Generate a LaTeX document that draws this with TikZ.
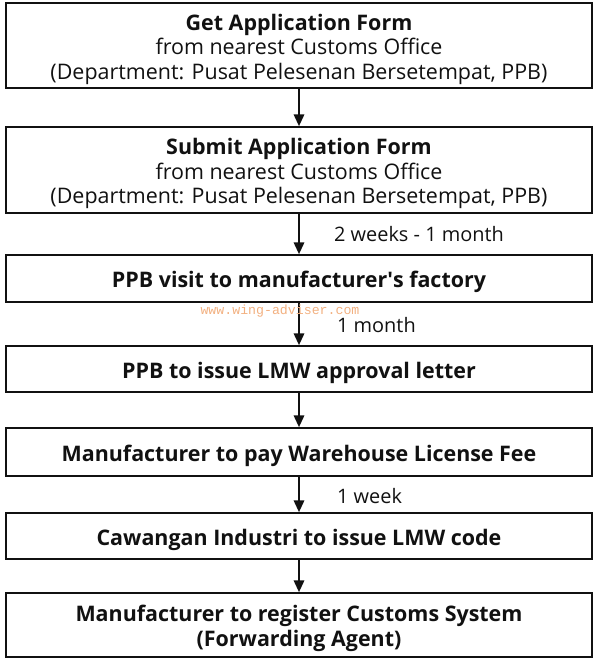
\documentclass[tikz,border=0pt]{standalone}
\usepackage{fontspec}
\setmainfont{Open Sans}
\newfontfamily\wmfont{Liberation Mono}
\usepackage{xcolor}
\definecolor{ink}{HTML}{111111}
\definecolor{watermark}{HTML}{F2B080}
\usepackage{tikz}
\usetikzlibrary{arrows.meta, positioning}
\newcommand{\headstrut}{\rule{0pt}{20pt}}

\begin{document}
\begin{tikzpicture}[
  x=0.03cm, y=-0.03cm,
  every node/.style={font=\fontsize{18.3}{20.8}\selectfont, text=ink},
  stepbox/.style={rectangle, draw=ink, line width=1.5pt, fill=white,
                  minimum width=17.6cm, align=center, inner sep=2pt},
  note/.style={anchor=west, font=\fontsize{17}{19}\selectfont},
  flow/.style={-{Triangle[length=10pt, width=9pt]}, line width=1.3pt, draw=ink}
]
  \useasboundingbox (0,0) rectangle (600,663);

  \node[stepbox, minimum height=85*0.03cm] (getform) at (299,45.5)
    {\headstrut\textbf{Get Application Form}\\
     from nearest Customs Office\\
     (Department: Pusat Pelesenan Bersetempat, PPB)};
  \node[stepbox, minimum height=86*0.03cm] (submit) at (299,170)
    {\headstrut\textbf{Submit Application Form}\\
     from nearest Customs Office\\
     (Department: Pusat Pelesenan Bersetempat, PPB)};
  \node[stepbox, minimum height=47*0.03cm] (visit) at (299,278.5)
    {\headstrut\textbf{PPB visit to manufacturer\textquotesingle s factory}};
  \node[stepbox, minimum height=46*0.03cm] (approval) at (299,369)
    {\headstrut\textbf{PPB to issue LMW approval letter}};
  \node[stepbox, minimum height=48*0.03cm] (fee) at (299,452)
    {\headstrut\textbf{Manufacturer to pay Warehouse License Fee}};
  \node[stepbox, minimum height=46*0.03cm] (lmwcode) at (299,536)
    {\headstrut\textbf{Cawangan Industri to issue LMW code}};
  \node[stepbox, minimum height=64*0.03cm] (register) at (299,625)
    {\headstrut\textbf{Manufacturer to register Customs System}\\
     \textbf{(Forwarding Agent)}};

  % arrows between steps
  \draw[flow] (getform) -- (submit);
  \draw[flow] (submit) -- (visit);
  \draw[flow] (visit) -- (approval);
  \draw[flow] (approval) -- (fee);
  \draw[flow] (fee) -- (lmwcode);
  \draw[flow] (lmwcode) -- (register);

  % durations
  \node[note] (wait1) at (330,234) {2 weeks - 1 month};
  \node[note] (wait2) at (333,325) {1 month};
  \node[note] (wait3) at (333,496) {1 week};

  \node[font=\wmfont\fontsize{11.3}{13}\selectfont, text=watermark] (site)
    at (280,311) {www.wing-adviser.com};
\end{tikzpicture}
\end{document}
